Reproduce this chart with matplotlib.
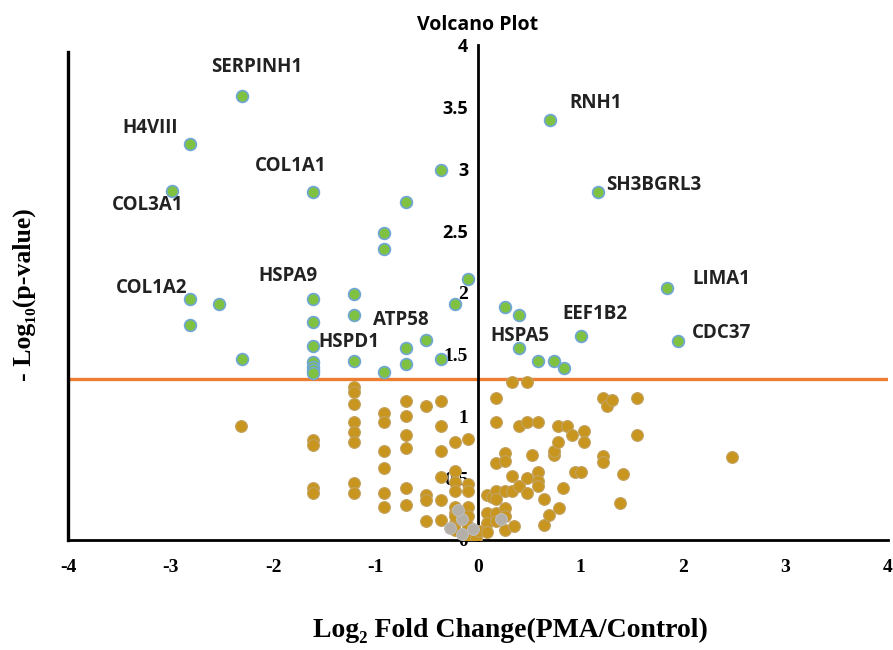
import matplotlib
matplotlib.use('Agg')
import matplotlib.pyplot as plt

# 유의한 단백질 (p < 0.05) - 초록색 점
sig_x = [-2.30, -2.81, -2.99, -1.61, -0.36, -0.70, -0.92, -0.92, -0.10, 0.70, 1.17,
         -2.81, -2.53, -2.81, -2.30,
         -1.61, -1.61, -1.61, -1.61, -1.61, -1.61, -1.61,
         -1.21, -1.21, -1.21, -0.92, -0.70, -0.70, -0.51, -0.36, -0.22,
         0.26, 0.40, 1.00, 0.40, 0.59, 0.74, 0.84, 1.84, 1.95]
sig_y = [3.59, 3.20, 2.82, 2.81, 2.99, 2.73, 2.48, 2.35, 2.11, 3.39, 2.81,
         1.95, 1.91, 1.74, 1.46,
         1.95, 1.76, 1.57, 1.44, 1.40, 1.37, 1.35,
         1.99, 1.82, 1.45, 1.36, 1.55, 1.42, 1.62, 1.46, 1.91,
         1.88, 1.82, 1.65, 1.55, 1.45, 1.45, 1.39, 2.04, 1.61]

# 유의하지 않은 단백질 - 갈색 점
ns_x = [-2.31,
        -1.61, -1.61, -1.61, -1.61,
        -1.21, -1.21, -1.21, -1.21, -1.21, -1.21, -1.21, -1.21,
        -0.92, -0.92, -0.92, -0.92, -0.92, -0.92,
        -0.70, -0.70, -0.70, -0.70, -0.70, -0.70,
        -0.51, -0.51, -0.51, -0.51,
        -0.36, -0.36, -0.36, -0.36, -0.36, -0.36,
        -0.22, -0.22, -0.22, -0.22, -0.22, -0.22, -0.22, -0.22, -0.22,
        -0.10, -0.10, -0.10, -0.10, -0.10, -0.10, -0.10,
        -0.02, 0.01,
        0.09, 0.09, 0.09, 0.09,
        0.14,
        0.18, 0.18, 0.18, 0.18, 0.18, 0.18, 0.18,
        0.26, 0.26, 0.26, 0.26, 0.26, 0.26,
        0.335, 0.335, 0.335,
        0.35,
        0.40, 0.40,
        0.475, 0.475, 0.475, 0.475,
        0.53,
        0.585, 0.585, 0.585, 0.585,
        0.64, 0.64,
        0.69,
        0.74, 0.74,
        0.78, 0.78,
        0.79, 0.83, 0.87, 0.92, 0.95, 1.00,
        1.03, 1.03,
        1.22, 1.22, 1.22,
        1.26, 1.31, 1.385, 1.41,
        1.55, 1.55,
        2.48]
ns_y = [0.92,
        0.81, 0.77, 0.42, 0.38,
        1.24, 1.20, 1.10, 0.95, 0.87, 0.79, 0.46, 0.38,
        1.03, 0.95, 0.72, 0.58, 0.38, 0.27,
        1.12, 1.00, 0.85, 0.74, 0.42, 0.28,
        1.08, 0.36, 0.32, 0.15,
        1.12, 0.92, 0.72, 0.51, 0.32, 0.16,
        0.79, 0.56, 0.47, 0.40, 0.27, 0.215, 0.135, 0.08, 0.19,
        0.82, 0.45, 0.40, 0.27, 0.19, 0.11, 0.03,
        0.014, 0.075,
        0.36, 0.215, 0.135, 0.067,
        0.35,
        1.15, 0.95, 0.62, 0.40, 0.33, 0.215, 0.15,
        0.70, 0.64, 0.40, 0.255, 0.19, 0.08,
        1.28, 0.52, 0.40,
        0.11,
        0.92, 0.44,
        1.28, 0.95, 0.50, 0.38,
        0.69,
        0.95, 0.55, 0.48, 0.44,
        0.33, 0.12,
        0.20,
        0.69, 0.72,
        0.92, 0.79,
        0.26, 0.42, 0.92, 0.85, 0.55, 0.55,
        0.88, 0.79,
        1.15, 0.68, 0.63,
        1.08, 1.13, 0.30, 0.53,
        1.15, 0.85,
        0.67]

# 원점 근처 회색 점
gray_x = [-0.16, -0.16, -0.05, -0.20, 0.22, -0.27]
gray_y = [0.05, 0.17, 0.09, 0.24, 0.17, 0.10]

# 유전자 이름 라벨 (왼쪽 x, 중앙 y)
gene_names = ['SERPINH1', 'H4VIII', 'COL1A1', 'COL3A1', 'RNH1', 'SH3BGRL3', 'COL1A2',
              'HSPA9', 'ATP58', 'HSPD1', 'LIMA1', 'EEF1B2', 'HSPA5', 'CDC37']
gene_x = [-2.60, -3.47, -2.18, -3.57, 0.89, 1.25, -3.53,
          -2.14, -1.02, -1.56, 2.09, 0.82, 0.12, 2.09]
gene_y = [3.82, 3.33, 3.02, 2.71, 3.53, 2.87, 2.04,
          2.13, 1.78, 1.60, 2.11, 1.83, 1.65, 1.67]

threshold = 1.301  # -log10(0.05)
y_ticks = [0, 0.5, 1, 1.5, 2, 2.5, 3, 3.5, 4]
x_ticks = [-4, -3, -2, -1, 0, 1, 2, 3, 4]

fig = plt.figure(figsize=(8.93, 6.5), dpi=100)
ax = fig.add_axes([68 / 893, 1 - 540 / 650, 820 / 893, 495 / 650])

ax.scatter(ns_x, ns_y, s=72, color='#C8961E', edgecolors='#C2A263', linewidths=0.8, zorder=3)
ax.scatter(gray_x, gray_y, s=72, color='#B4B0A8', edgecolors='#BDBDBD', linewidths=0.8, zorder=3.5)
ax.scatter(sig_x, sig_y, s=72, color='#7FC241', edgecolors='#6FA6D6', linewidths=1.2, zorder=4)

ax.axhline(threshold, color='#ED7D31', linewidth=2.4, zorder=2)

for name, gx, gy in zip(gene_names, gene_x, gene_y):
    ax.text(gx, gy, name, ha='left', va='center', fontsize=13.5,
            family='Open Sans', fontweight='bold', color='#222222', zorder=5)

ax.set_xlim(-4, 4)
ax.set_ylim(0, 4)

# 축 설정: y축은 x=0 위치, 왼쪽 테두리는 별도 선으로
ax.spines['left'].set_position(('data', 0))
ax.spines['left'].set_linewidth(2)
ax.spines['bottom'].set_linewidth(2)
ax.spines['top'].set_visible(False)
ax.spines['right'].set_visible(False)
ax.axvline(-4, ymax=0.986, color='black', linewidth=2.4, clip_on=False)

ax.set_xticks(x_ticks)
ax.set_xticklabels([str(t) for t in x_ticks])
ax.set_yticks(y_ticks)
ax.set_yticklabels(['0', '0.5', '1', '1.5', '2', '2.5', '3', '3.5', '4'])
ax.tick_params(axis='x', length=0, pad=14)
ax.tick_params(axis='y', length=0, pad=7)
for lbl in ax.get_xticklabels():
    lbl.set_fontfamily('Liberation Serif')
    lbl.set_fontweight('bold')
    lbl.set_fontsize(14)
for lbl, t in zip(ax.get_yticklabels(), y_ticks):
    lbl.set_fontfamily('Open Sans' if t >= 2.5 else 'Liberation Serif')
    lbl.set_fontweight('bold')
    lbl.set_fontsize(13 if t >= 2.5 else 14)

ax.set_title('Volcano Plot', fontsize=14, family='Open Sans', fontweight='bold', pad=11)

fig.text(0.572, 1 - 630 / 650, 'Log\u2082 Fold Change(PMA/Control)', ha='center', va='center',
         fontsize=20, family=['Liberation Serif', 'DejaVu Serif'], fontweight='bold')
fig.text(24 / 893, 1 - 295 / 650, '- Log\u2081\u2080(p-value)', ha='center', va='center',
         rotation=90, fontsize=18.5, family=['Liberation Serif', 'DejaVu Serif'], fontweight='bold')

fig.savefig('out.png', dpi=100)
